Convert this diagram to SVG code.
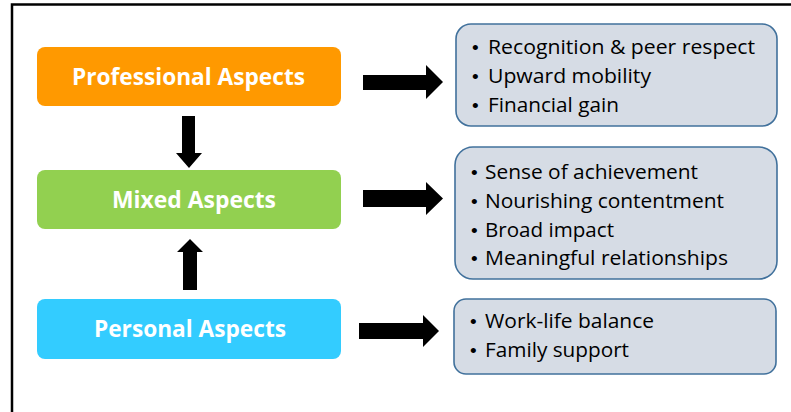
<svg xmlns="http://www.w3.org/2000/svg" width="791" height="412" viewBox="0 0 791 412">
<style>
.lbl{font-family:"Open Sans","Liberation Sans",sans-serif;font-weight:bold;font-size:23.5px;fill:#ffffff;text-anchor:middle}
.it{font-family:"Open Sans","Liberation Sans",sans-serif;font-size:20.5px;fill:#000000}
.bul{font-family:"Liberation Sans",sans-serif;font-size:19px;fill:#000000}
.rb{fill:#D6DCE5;stroke:#41719C;stroke-width:1.6}
.ar{fill:#000000}
</style>
<rect width="791" height="412" fill="#ffffff"/>
<path d="M12 412 V4.5 H791" fill="none" stroke="#000000" stroke-width="2.5"/>
<g id="professional">
<rect x="37" y="47" width="304" height="59" rx="8" fill="#FF9900"/>
<text class="lbl" x="188.5" y="85" textLength="233" lengthAdjust="spacingAndGlyphs">Professional Aspects</text>
</g>
<g id="mixed">
<rect x="37" y="170" width="304" height="59" rx="8" fill="#92D050"/>
<text class="lbl" x="194" y="208" textLength="164" lengthAdjust="spacingAndGlyphs">Mixed Aspects</text>
</g>
<g id="personal">
<rect x="37" y="299" width="304" height="60" rx="8" fill="#33CCFF"/>
<text class="lbl" x="190" y="337" textLength="192" lengthAdjust="spacingAndGlyphs">Personal Aspects</text>
</g>
<g id="professional-items">
<rect class="rb" x="456" y="24" width="321" height="102" rx="15"/>
<text class="bul" x="472" y="54">•</text>
<text class="it" x="488" y="54" textLength="267" lengthAdjust="spacingAndGlyphs">Recognition &amp; peer respect</text>
<text class="bul" x="472" y="83">•</text>
<text class="it" x="488" y="83" textLength="163" lengthAdjust="spacingAndGlyphs">Upward mobility</text>
<text class="bul" x="472" y="112">•</text>
<text class="it" x="488" y="112" textLength="131" lengthAdjust="spacingAndGlyphs">Financial gain</text>
</g>
<g id="mixed-items">
<rect class="rb" x="455" y="147" width="322" height="132" rx="18"/>
<text class="bul" x="471" y="179">•</text>
<text class="it" x="485" y="179" textLength="213" lengthAdjust="spacingAndGlyphs">Sense of achievement</text>
<text class="bul" x="471" y="208">•</text>
<text class="it" x="485" y="208" textLength="239" lengthAdjust="spacingAndGlyphs">Nourishing contentment</text>
<text class="bul" x="471" y="237">•</text>
<text class="it" x="485" y="237" textLength="129" lengthAdjust="spacingAndGlyphs">Broad impact</text>
<text class="bul" x="471" y="265">•</text>
<text class="it" x="485" y="265" textLength="243" lengthAdjust="spacingAndGlyphs">Meaningful relationships</text>
</g>
<g id="personal-items">
<rect class="rb" x="454" y="299" width="322" height="75" rx="12"/>
<text class="bul" x="470" y="328">•</text>
<text class="it" x="485" y="328" textLength="169" lengthAdjust="spacingAndGlyphs">Work-life balance</text>
<text class="bul" x="470" y="357">•</text>
<text class="it" x="485" y="357" textLength="144" lengthAdjust="spacingAndGlyphs">Family support</text>
</g>
<g id="connectors">
<path class="ar" d="M182 116 H195 V153 H202 L189 168 L176 153 H182 Z"/>
<path class="ar" d="M183 290 H197 V252 H203 L190 239 L177 252 H183 Z"/>
<path class="ar" d="M363 75 H426 V65 L443 82 L426 99 V90 H363 Z"/>
<path class="ar" d="M363 190 H426 V182 L443 198.5 L426 215 V207 H363 Z"/>
<path class="ar" d="M359 323 H423 V315 L439 331 L423 347 V339 H359 Z"/>
</g>
</svg>
